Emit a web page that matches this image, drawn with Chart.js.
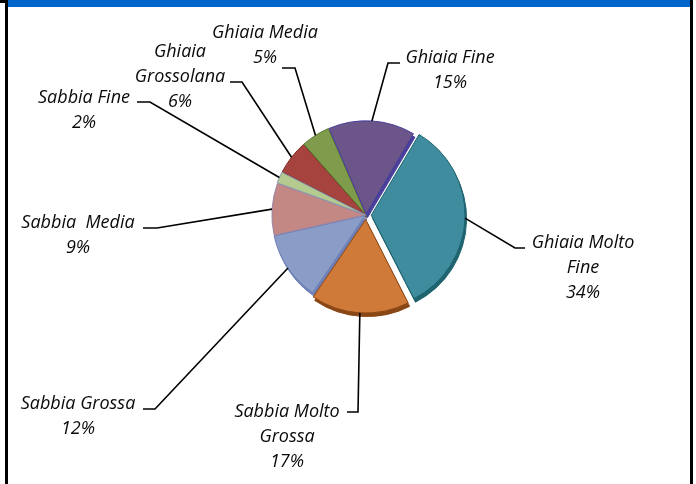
<!DOCTYPE html>
<html>
<head>
<meta charset="utf-8">
<script src="https://cdn.jsdelivr.net/npm/chart.js@4"></script>
<style>
  html, body { margin: 0; padding: 0; background: #fff; }
  #wrap { position: relative; width: 696px; height: 484px; overflow: hidden; background: #fff; }
  #pie { position: absolute; left: 0; top: 0; }
  .bar-top  { position: absolute; left: 7px; top: 0; width: 683px; height: 7px; background: #0066cc; }
  .edge     { position: absolute; top: 0; width: 3px; height: 484px; background: #000; }
  .edge.l   { left: 5px; }
  .edge.r   { left: 690px; }
  .tick     { position: absolute; left: 0; top: 0; width: 6px; height: 3px; background: #000; }
</style>
</head>
<body>
<div id="wrap">
  <canvas id="pie" width="696" height="484"></canvas>
  <div class="bar-top"></div>
  <div class="edge l"></div>
  <div class="edge r"></div>
  <div class="tick"></div>
</div>
<script>
'use strict';

// ── Data ─────────────────────────────────────────────────
const CLASSES = [
  'Ghiaia Grossolana', 'Ghiaia Media', 'Ghiaia Fine', 'Ghiaia Molto Fine',
  'Sabbia Molto Grossa', 'Sabbia Grossa', 'Sabbia Media', 'Sabbia Fine',
];
const PERCENT = [6, 5, 15, 34, 17, 12, 9, 2];

// label text as broken over lines (the % line is appended)
const LABEL_LINES = [
  ['Ghiaia', 'Grossolana'], ['Ghiaia Media'], ['Ghiaia Fine'], ['Ghiaia Molto', 'Fine'],
  ['Sabbia Molto', 'Grossa'], ['Sabbia Grossa'], ['Sabbia  Media'], ['Sabbia Fine'],
];

// ── Styling ──────────────────────────────────────────────
const FILL = ['#a6433f', '#7f9b4c', '#6c5589', '#3f8c9f', '#d07a3a', '#8a9dc6', '#c48884', '#b5ca8e'];
const EDGE = ['#7a2a22', '#5a7630', '#4a3f9a', '#1e636e', '#8a4716', '#7080b8', '#9a86a8', '#8a96b4'];
const OFFSET = [3, 3, 4, 21, 18, 4, 3, 3];

// label placement: text centre x, first line centre y, hook [xOuter, xInner, y]
const LABEL_POS = [
  { x: 180, y: 52,  hook: [230, 242, 82] },
  { x: 265, y: 33,  hook: [282, 295, 68] },
  { x: 450, y: 58,  hook: [400, 388, 63] },
  { x: 583, y: 243, hook: [525, 515, 248] },
  { x: 287, y: 412, hook: [347, 358, 412] },
  { x: 78,  y: 404, hook: [143, 155, 409] },
  { x: 78,  y: 223, hook: [143, 157, 228] },
  { x: 84,  y: 98,  hook: [137, 150, 102] },
];
const LINE_H = 25;
const LABEL_FONT = 'italic 18px "Open Sans", "Noto Sans", sans-serif';

// ── Plugins ──────────────────────────────────────────────

// darker copy of each slice pushed down-right, gives the bevelled rim
const bevelPlugin = {
  id: 'bevel',
  beforeDatasetDraw(chart, args) {
    const ctx = chart.ctx;
    const meta = args.meta;
    meta.data.forEach((arc, i) => {
      const saved = arc.options;
      arc.options = Object.assign({}, saved, { backgroundColor: EDGE[i], borderColor: EDGE[i] });
      ctx.save();
      ctx.translate(1.5, 3.5);
      arc.draw(ctx);
      ctx.restore();
      arc.options = saved;
    });
  },
};

// leader lines + italic labels
const labelPlugin = {
  id: 'sliceLabels',
  afterDatasetsDraw(chart) {
    const ctx  = chart.ctx;
    const meta = chart.getDatasetMeta(0);
    ctx.save();
    ctx.strokeStyle = '#000';
    ctx.lineWidth = 1.6;
    meta.data.forEach((arc, i) => {
      const mid = (arc.startAngle + arc.endAngle) / 2;
      const circ = arc.endAngle - arc.startAngle;
      const off = (OFFSET[i] / 4) * (2 - Math.sin(Math.min(Math.PI, circ)));
      const r = arc.outerRadius + off;
      const ax = arc.x + Math.cos(mid) * r;
      const ay = arc.y + Math.sin(mid) * r;
      const [x0, x1, hy] = LABEL_POS[i].hook;
      ctx.beginPath();
      ctx.moveTo(x0, hy);
      ctx.lineTo(x1, hy);
      ctx.lineTo(ax, ay);
      ctx.stroke();
    });

    ctx.fillStyle = '#0a0a0a';
    ctx.font = LABEL_FONT;
    ctx.textAlign = 'center';
    ctx.textBaseline = 'middle';
    LABEL_LINES.forEach((lines, i) => {
      const all = lines.concat([PERCENT[i] + '%']);
      all.forEach((t, k) => ctx.fillText(t, LABEL_POS[i].x, LABEL_POS[i].y + k * LINE_H));
    });
    ctx.restore();
  },
};

// ── Chart ────────────────────────────────────────────────
new Chart(document.getElementById('pie').getContext('2d'), {
  type: 'pie',
  data: {
    labels: CLASSES,
    datasets: [{
      data: PERCENT,
      backgroundColor: FILL,
      borderColor: EDGE,
      borderWidth: 1,
      offset: OFFSET,
      radius: 93,
    }],
  },
  options: {
    responsive: false,
    animation: false,
    events: [],
    rotation: -63,
    layout: { padding: { left: 36, right: 0, top: 0, bottom: 54 } },
    plugins: {
      legend: { display: false },
      tooltip: { enabled: false },
    },
  },
  plugins: [bevelPlugin, labelPlugin],
});
</script>
</body>
</html>
